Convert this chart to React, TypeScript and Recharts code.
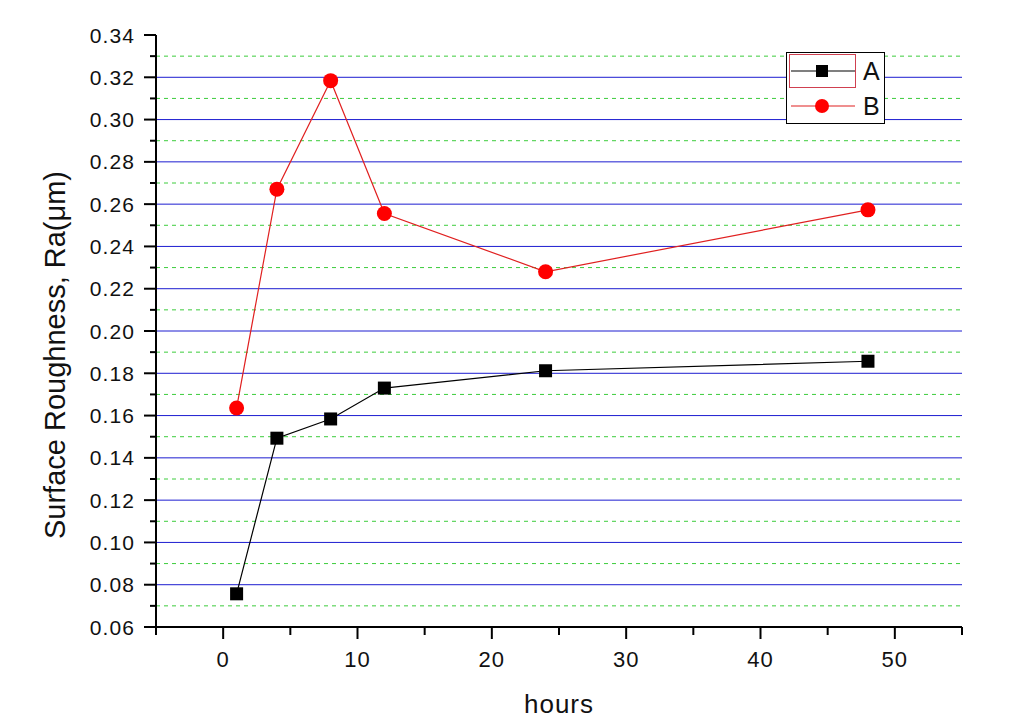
import React from 'react';
import { LineChart, Line, XAxis, YAxis, CartesianGrid } from 'recharts';

const hours = [1, 4, 8, 12, 24, 48];
const seriesA = [0.0757, 0.1493, 0.1584, 0.173, 0.1812, 0.1857];
const seriesB = [0.1636, 0.2671, 0.3184, 0.2556, 0.228, 0.2573];
const seriesNames = ['A', 'B'];
const xTicks = [-5, 0, 5, 10, 15, 20, 25, 30, 35, 40, 45, 50, 55];
const xLabelTicks = [0, 10, 20, 30, 40, 50];
const yTicks = [0.06, 0.07, 0.08, 0.09, 0.1, 0.11, 0.12, 0.13, 0.14, 0.15, 0.16, 0.17, 0.18, 0.19, 0.2, 0.21, 0.22, 0.23, 0.24, 0.25, 0.26, 0.27, 0.28, 0.29, 0.3, 0.31, 0.32, 0.33, 0.34];
const majorGrid = [0.08, 0.1, 0.12, 0.14, 0.16, 0.18, 0.2, 0.22, 0.24, 0.26, 0.28, 0.3, 0.32];
const minorGrid = [0.07, 0.09, 0.11, 0.13, 0.15, 0.17, 0.19, 0.21, 0.23, 0.25, 0.27, 0.29, 0.31, 0.33];

const data = hours.map((h, i) => ({ hours: h, A: seriesA[i], B: seriesB[i] }));

const FONT = 'Arial, "Liberation Sans", sans-serif';

const XTick = (props: any) => {
  const { x, y, payload } = props;
  const v = payload.value;
  const major = xLabelTicks.includes(v);
  return (
    <g>
      <line x1={x} x2={x} y1={y} y2={y + (major ? 12 : 8)} stroke="#000" strokeWidth={2} />
      {major && (
        <text x={x} y={y + 40} textAnchor="middle" fontSize={22} fontFamily={FONT} fill="#111" letterSpacing={1}>
          {v}
        </text>
      )}
    </g>
  );
};

const YTick = (props: any) => {
  const { x, y, payload } = props;
  const v = payload.value;
  const major = Math.round(v * 100) % 2 === 0;
  return (
    <g>
      <line x1={x} x2={x - (major ? 12 : 6)} y1={y} y2={y} stroke="#000" strokeWidth={2} />
      {major && (
        <text x={x - 21} y={y} dy="0.36em" textAnchor="end" fontSize={21} fontFamily={FONT} fill="#111" letterSpacing={1.1}>
          {v.toFixed(2)}
        </text>
      )}
    </g>
  );
};

const SquareDot = (p: any) => (
  <rect key={`a-${p.index}`} x={p.cx - 6.5} y={p.cy - 6.5} width={13} height={13} fill="#000" />
);
const CircleDot = (p: any) => (
  <circle key={`b-${p.index}`} cx={p.cx} cy={p.cy} r={7.5} fill="#ff0000" />
);

const LegendBox = () => (
  <svg width={100} height={73} style={{ display: 'block' }}>
    <rect x={0.5} y={0.5} width={98} height={71} fill="#fff" stroke="#000" strokeWidth={1} />
    <rect x={3.5} y={2.5} width={66} height={33} fill="none" stroke="#d04050" strokeWidth={1} />
    <line x1={5} x2={69} y1={19} y2={19} stroke="#000" strokeWidth={1.2} />
    <rect x={30} y={13} width={12} height={12} fill="#000" />
    <text x={77} y={28} fontSize={25} fontFamily={FONT} fill="#111">{seriesNames[0]}</text>
    <line x1={5} x2={69} y1={54} y2={54} stroke="#e02020" strokeWidth={1.2} />
    <circle cx={36} cy={54} r={7} fill="#ff0000" />
    <text x={77} y={63} fontSize={25} fontFamily={FONT} fill="#111">{seriesNames[1]}</text>
  </svg>
);

export default function App() {
  return (
    <div style={{ position: 'absolute', left: 0, top: 0, width: 1030, height: 724, background: '#fff' }}>
      <LineChart width={1030} height={724} data={data} margin={{ top: 35, right: 68, bottom: 0, left: 0 }}>
        <CartesianGrid vertical={false} horizontalValues={minorGrid} stroke="#3ccc3c" strokeDasharray="4 4" strokeWidth={1} />
        <CartesianGrid vertical={false} horizontalValues={majorGrid} stroke="#1c1cd0" strokeWidth={1} />
        <XAxis
          dataKey="hours"
          type="number"
          domain={[-5, 55]}
          ticks={xTicks}
          interval={0}
          tickSize={0}
          tickMargin={0}
          tickLine={false}
          tick={<XTick />}
          axisLine={{ stroke: '#000', strokeWidth: 2 }}
          height={97}
          allowDataOverflow
          label={(p: any) => (
            <text x={559} y={713} textAnchor="middle" fontSize={26} fontFamily={FONT} fill="#111" letterSpacing={1}>
              hours
            </text>
          )}
        />
        <YAxis
          type="number"
          domain={[0.06, 0.34]}
          ticks={yTicks}
          interval={0}
          width={156}
          tickSize={0}
          tickMargin={0}
          tickLine={false}
          tick={<YTick />}
          axisLine={{ stroke: '#000', strokeWidth: 2 }}
          allowDataOverflow
          label={(p: any) => (
            <text
              x={65}
              y={355}
              transform="rotate(-90, 65, 355)"
              textAnchor="middle"
              fontSize={29}
              fontFamily={FONT}
              fill="#111"
            >
              Surface Roughness, Ra(μm)
            </text>
          )}
        />
        <Line dataKey="A" name={seriesNames[0]} stroke="#000" strokeWidth={1.2} dot={SquareDot} activeDot={false} isAnimationActive={false} />
        <Line dataKey="B" name={seriesNames[1]} stroke="#e02020" strokeWidth={1.2} dot={CircleDot} activeDot={false} isAnimationActive={false} />
      </LineChart>
      <div style={{ position: 'absolute', left: 786, top: 52 }}>
        <LegendBox />
      </div>
    </div>
  );
}
